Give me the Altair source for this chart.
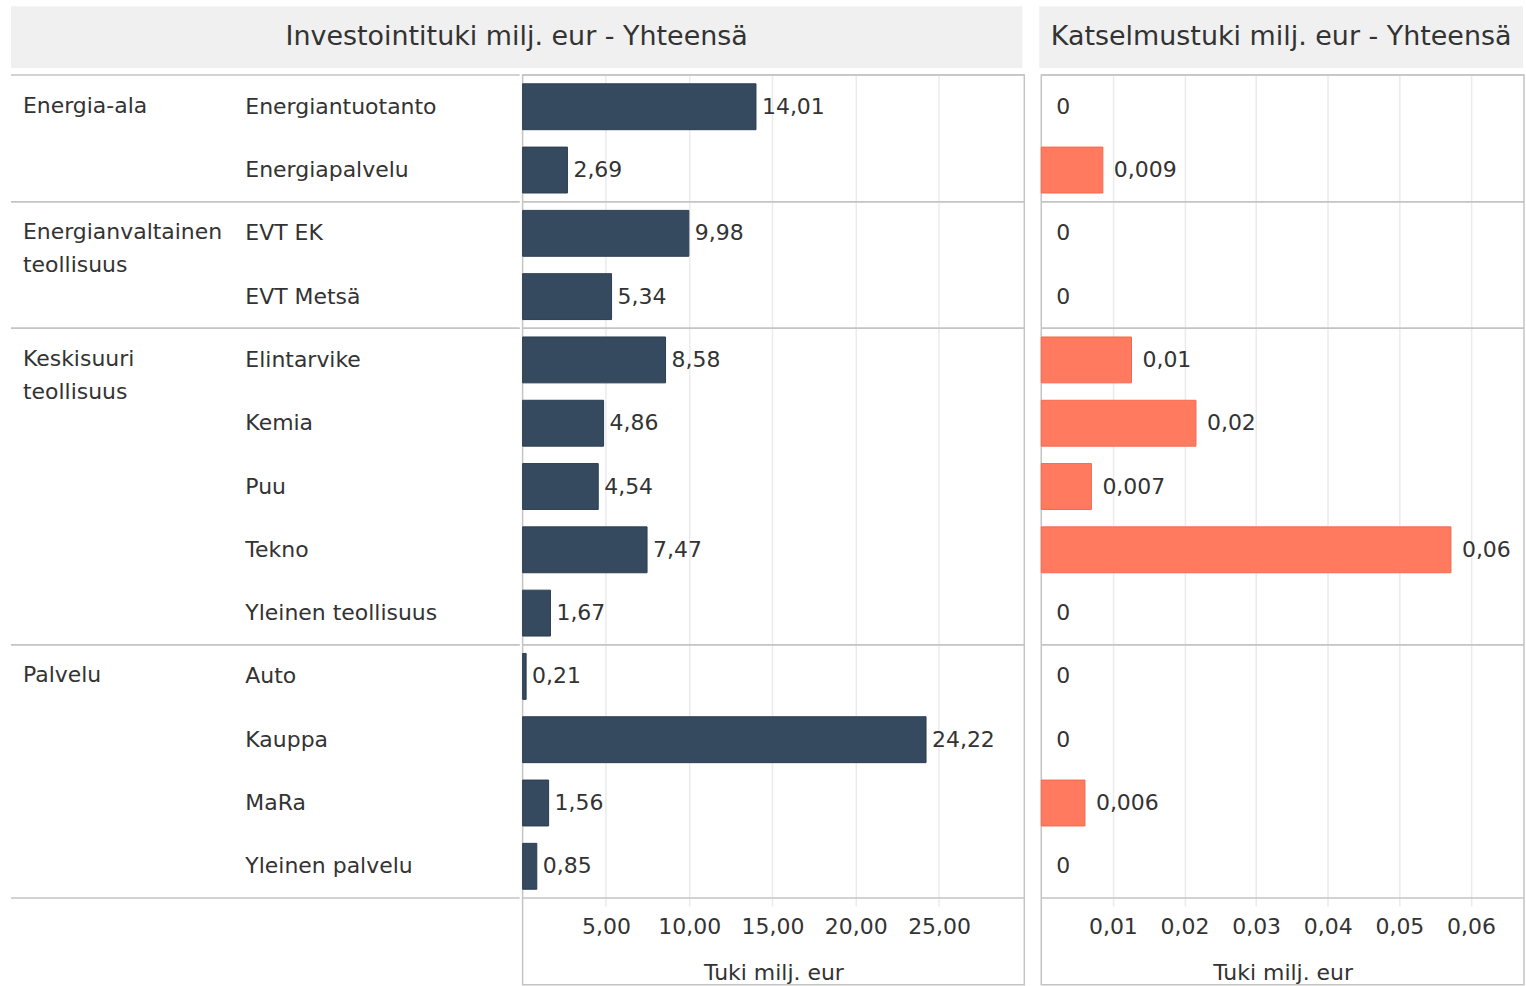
import altair as alt
import pandas as pd

categories = ["Energia-ala", "Energia-ala",
              "Energianvaltainen teollisuus", "Energianvaltainen teollisuus",
              "Keskisuuri teollisuus", "Keskisuuri teollisuus", "Keskisuuri teollisuus",
              "Keskisuuri teollisuus", "Keskisuuri teollisuus",
              "Palvelu", "Palvelu", "Palvelu", "Palvelu"]
subcats = ["Energiantuotanto", "Energiapalvelu", "EVT EK", "EVT Metsä", "Elintarvike",
           "Kemia", "Puu", "Tekno", "Yleinen teollisuus", "Auto", "Kauppa", "MaRa",
           "Yleinen palvelu"]
investointi = [14.01, 2.69, 9.98, 5.34, 8.58, 4.86, 4.54, 7.47, 1.67, 0.21, 24.22, 1.56, 0.85]
katselmus = [0, 0.0086, 0, 0, 0.0126, 0.0216, 0.0070, 0.0572, 0, 0, 0, 0.0061, 0]
invest_ticks = [5, 10, 15, 20, 25]
katsel_ticks = [0.01, 0.02, 0.03, 0.04, 0.05, 0.06]
title_left = "Investointituki milj. eur - Yhteensä"
title_right = "Katselmustuki milj. eur - Yhteensä"
axis_title = "Tuki milj. eur"

df = pd.DataFrame({"cat": categories, "sub": subcats, "inv": investointi, "kat": katselmus})
df["first"] = df["cat"] != df["cat"].shift()
df["last"] = df["cat"] != df["cat"].shift(-1)

FONT = "DejaVu Sans"
FS = 22
TXT = "#333333"
LINE = "#c4c4c4"
GRID = "#ebebeb"
H = 825          # rows area
PH = 912         # panel height incl. axis area
TICK = 8
W_LAB, W_L, W_R = 510, 503, 484

ysc = alt.Scale(paddingInner=0, paddingOuter=0, range=[0, H])
no_stroke = alt.ViewBackground(stroke="transparent", strokeWidth=0)


def yenc(bp=0.5):
    return alt.Y("sub:N", sort=subcats, axis=None, scale=ysc, bandPosition=bp)


base = alt.Chart(df)

rule_top = base.transform_filter("datum.first").mark_rule(color=LINE, strokeWidth=1.5).encode(y=yenc(0))
rule_bot = base.transform_filter("datum.last").mark_rule(color=LINE, strokeWidth=1.5).encode(y=yenc(1))

cat_text = base.transform_filter("datum.first").mark_text(
    align="left", baseline="top", dy=-11, lineBreak=" ", lineHeight=33,
    fontSize=FS, color=TXT).encode(x=alt.value(12), y=yenc(), text="cat:N")
sub_text = base.mark_text(align="left", baseline="middle", fontSize=FS, color=TXT).encode(
    x=alt.value(235), y=yenc(), text="sub:N")

labels = alt.layer(rule_top, rule_bot, cat_text, sub_text).properties(
    width=W_LAB, height=H, view=no_stroke)

xs_l = alt.Scale(domain=[0, 30.12], nice=False)
xs_r = alt.Scale(domain=[0, 0.0674], nice=False)


def panel_axis(vals):
    # axis line placed just below the rows; ticks fill the gap up to the rows,
    # labels and title drawn below it inside the panel
    return alt.Axis(values=vals, format=".2f", orient="top", offset=-(H + TICK),
                    grid=True, gridColor=GRID, gridWidth=1.5,
                    domain=False, ticks=True, tickColor=GRID, tickSize=TICK, tickWidth=1.5,
                    labelFontSize=FS, labelColor=TXT, labelFont=FONT,
                    labelBaseline="middle", labelPadding=-29, labelFlush=False,
                    title=axis_title, titleFontSize=FS, titleColor=TXT, titleFont=FONT,
                    titleFontWeight="normal", titleBaseline="middle", titleY=67)


left_bars = base.mark_bar(height={"band": 0.725}, color="#364a5f", stroke="#2b3d50", strokeWidth=1).encode(
    x=alt.X("inv:Q", scale=xs_l, axis=panel_axis(invest_ticks)), y=yenc())
left_text = base.mark_text(align="left", baseline="middle", dx=6, fontSize=FS, color=TXT).encode(
    x=alt.X("inv:Q", scale=xs_l), y=yenc(), text=alt.Text("inv:Q", format=".2f"))
left = alt.layer(left_bars, left_text, rule_top, rule_bot).properties(width=W_L, height=PH)

right_bars = base.transform_filter("datum.kat > 0").mark_bar(
    height={"band": 0.725}, color="#ff7a5e", stroke="#f26a4f", strokeWidth=1).encode(
    x=alt.X("kat:Q", scale=xs_r, axis=panel_axis(katsel_ticks)), y=yenc())
right_text = base.transform_filter("datum.kat > 0").mark_text(
    align="left", baseline="middle", dx=11, fontSize=FS, color=TXT).encode(
    x=alt.X("kat:Q", scale=xs_r), y=yenc(), text=alt.Text("kat:Q", format=".1r"))
right_zero = base.transform_filter("datum.kat == 0").mark_text(
    align="left", baseline="middle", dx=15, fontSize=FS, color=TXT).encode(
    x=alt.X("kat:Q", scale=xs_r), y=yenc(), text=alt.Text("kat:Q", format=".1r"))
right = alt.layer(right_bars, right_text, right_zero, rule_top, rule_bot).properties(width=W_R, height=PH)

hdr_bg = alt.ViewBackground(fill="#f0f0f0", stroke="transparent", strokeWidth=0)
hdr_l = alt.Chart(pd.DataFrame({"t": [title_left]})).mark_text(fontSize=27, color=TXT).encode(
    text="t:N").properties(width=1014, height=62, view=hdr_bg)
hdr_r = alt.Chart(pd.DataFrame({"t": [title_right]})).mark_text(fontSize=27, color=TXT).encode(
    text="t:N").properties(width=485, height=62, view=hdr_bg)

header = alt.hconcat(hdr_l, hdr_r, spacing=17, bounds="flush")
panels = alt.hconcat(left, right, spacing=17, bounds="flush")
body = alt.hconcat(labels, panels, spacing=0)

chart = alt.vconcat(header, body, spacing=5).properties(
    padding={"left": 10, "top": 5, "right": 0, "bottom": 0}
).configure(
    font=FONT,
    locale={"number": {"decimal": ",", "thousands": "\u00a0", "grouping": [3],
                       "currency": ["", "\u00a0€"]}}
).configure_view(stroke=LINE, strokeWidth=1.5).configure_text(font=FONT)

chart.save("out.html", embed_options={"renderer": "svg", "actions": False})
